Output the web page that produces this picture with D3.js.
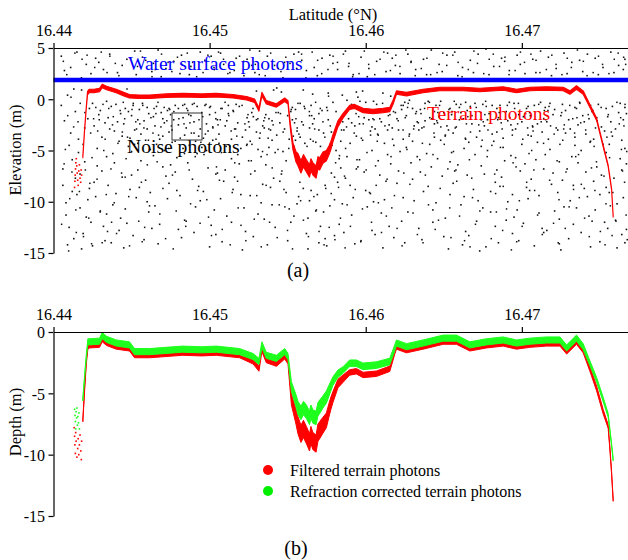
<!DOCTYPE html>
<html><head><meta charset="utf-8">
<script src="https://cdn.jsdelivr.net/npm/d3@7"></script>
<style>
body{margin:0;background:#fff}
svg{display:block}
text{font-family:"Liberation Serif","Times New Roman",serif}
</style>
</head><body>
<svg id="chart" width="628" height="560"></svg>
<script>
// ---------------- DATA ----------------
const latTicks = [16.44, 16.45, 16.46, 16.47];
const elevTicks = [5, 0, -5, -10, -15];
const depthTicks = [0, -5, -10, -15];

// water surface photons (panel a)
const waterLat = [16.4400, 16.4768];
const waterElev = [1.88, 1.88];

// terrain photons (panel a): centre elevation and spread of the photon band
const terrainLat = [16.44188,16.44199,16.44210,16.44218,16.44228,16.44260,16.44295,16.44312,16.44340,16.44402,16.44450,16.44487,16.44550,16.44615,16.44720,16.44827,16.44950,16.45043,16.45150,16.45237,16.45288,16.45316,16.45335,16.45363,16.45428,16.45481,16.45502,
16.45517,16.45534,16.45553,16.45566,16.45585,16.45601,16.45620,16.45640,16.45649,16.45662,16.45682,16.45694,16.45705,16.45726,16.45748,16.45764,16.45777,16.45790,16.45822,
16.45855,16.45897,16.45929,16.45983,16.46047,16.46111,16.46154,16.46175,16.46197,16.46261,16.46367,16.46474,16.46624,16.46731,16.46880,16.46966,16.47051,16.47158,16.47265,16.47308,16.47350,16.47393,16.47436,16.47479,16.47500,16.47521,16.47553,16.47575,16.47585];
const terrainElev = [-5.6,-3.0,-0.8,0.6,0.8,0.8,0.9,1.3,1.1,0.8,0.5,0.3,0.25,0.25,0.35,0.4,0.35,0.4,0.3,0.1,-0.15,-1.0,0.5,-0.3,-0.6,-0.05,-0.3,
-2.6,-4.6,-5.6,-5.9,-6.6,-6.0,-6.5,-7.0,-6.4,-6.8,-7.1,-6.2,-6.3,-5.7,-5.5,-5.0,-4.5,-3.8,-2.4,
-1.6,-0.8,-0.7,-1.1,-1.2,-1.1,-1.0,-0.3,0.65,0.5,0.8,1.0,1.0,0.9,1.05,0.8,1.0,1.05,1.0,0.65,1.15,0.65,-0.65,-1.95,-3.25,-4.55,-6.5,-8.8,-11.4];
const terrainSpread = [0.1,0.1,0.1,0.17,0.17,0.17,0.17,0.17,0.17,0.17,0.17,0.17,0.17,0.17,0.17,0.17,0.17,0.17,0.17,0.17,0.17,0.17,0.17,0.17,0.17,0.17,0.17,
0.25,0.35,0.5,0.6,0.6,0.6,0.6,0.6,0.6,0.6,0.6,0.6,0.6,0.55,0.5,0.45,0.4,0.35,0.3,
0.22,0.2,0.2,0.22,0.22,0.22,0.22,0.2,0.17,0.17,0.17,0.17,0.17,0.17,0.17,0.17,0.17,0.17,0.17,0.17,0.17,0.17,0.15,0.12,0.1,0.1,0.08,0.08,0.08];
const terrainScatter = [[16.44135,-8.6],[16.44137,-8.0],[16.44139,-7.4],[16.44141,-6.8],[16.44143,-6.2],[16.44146,-5.8],[16.44149,-6.5],[16.44152,-7.2],[16.44155,-7.9],[16.44158,-8.4],[16.44162,-7.0],[16.44166,-6.4],[16.44170,-7.7],[16.44174,-8.1],[16.44177,-6.9],[16.44180,-7.4]];

// noise photons (panel a)
const noise = [
[16.4405,4.2],[16.4407,-2.1],[16.4406,-6.8],[16.4408,-11.3],[16.4409,0.4],[16.4410,-4.5],[16.4411,3.1],[16.4412,-9.0],[16.4413,-13.6],[16.4414,-1.2],[16.4406,-8.4],[16.4409,-14.2],[16.4411,-3.3],[16.4413,1.0],[16.4408,-10.1],[16.4412,-5.9],[16.4410,-12.5],[16.4407,2.8],[16.4414,-7.7],[16.4405,-0.6],
[16.4415,4.6],[16.4416,-3.9],[16.4417,-10.6],[16.4418,0.9],[16.4419,-13.1],[16.4420,-6.1],[16.4421,3.4],[16.4422,-1.9],[16.4423,-8.7],[16.4424,-12.0],[16.4416,-5.2],[16.4418,-14.6],[16.4420,-2.8],[16.4422,-9.8],[16.4424,2.5],[16.4417,-7.3],[16.4419,-4.4],[16.4421,-11.5],[16.4423,-0.9],[16.4415,-9.3],
[16.4425,-0.4],[16.4426,-2.6],[16.4427,4.0],[16.4428,-6.5],[16.4429,-1.5],[16.4430,-10.9],[16.4431,-3.7],[16.4432,2.9],[16.4433,-13.8],[16.4434,-0.2],[16.4426,-8.1],[16.4428,-4.8],[16.4430,-1.1],[16.4432,-12.4],[16.4434,-5.6],[16.4427,-9.5],[16.4429,3.6],[16.4431,-7.0],[16.4433,-2.3],[16.4425,-14.3],[16.4434,-11.2],
[16.4435,-1.8],[16.4436,4.4],[16.4437,-0.7],[16.4438,-5.3],[16.4439,-3.1],[16.4440,-9.2],[16.4441,2.6],[16.4442,-12.8],[16.4443,-1.4],[16.4444,-7.6],[16.4436,-2.9],[16.4438,-10.3],[16.4440,-0.5],[16.4442,-4.1],[16.4444,3.3],[16.4437,-14.0],[16.4439,-6.2],[16.4441,-2.2],[16.4443,-11.6],[16.4435,-8.4],[16.4444,-3.6],
[16.4445,-2.4],[16.4446,-0.9],[16.4447,3.9],[16.4448,-4.6],[16.4449,-8.8],[16.4450,-1.6],[16.4451,-13.3],[16.4452,-3.0],[16.4453,2.4],[16.4454,-6.9],[16.4446,-10.7],[16.4448,-1.2],[16.4450,-5.1],[16.4452,4.7],[16.4454,-2.0],[16.4447,-12.1],[16.4449,-3.8],[16.4451,-0.6],[16.4453,-9.6],[16.4445,-14.5],[16.4450,-7.4],[16.4454,-4.3],
[16.4455,-1.0],[16.4456,-3.4],[16.4457,4.1],[16.4458,-2.1],[16.4459,-7.9],[16.4460,-0.8],[16.4461,-11.0],[16.4462,-4.9],[16.4463,2.7],[16.4464,-1.7],[16.4456,-6.0],[16.4458,-13.7],[16.4460,-2.9],[16.4462,-9.1],[16.4464,3.5],[16.4457,-0.4],[16.4459,-4.0],[16.4461,-1.4],[16.4463,-12.6],[16.4455,-8.6],[16.4464,-5.5],[16.4460,-10.0],
[16.4465,-2.6],[16.4466,-0.7],[16.4467,4.8],[16.4468,-3.9],[16.4469,-1.3],[16.4470,-6.6],[16.4471,-2.3],[16.4472,3.0],[16.4473,-9.7],[16.4474,-0.9],[16.4466,-4.4],[16.4468,-12.2],[16.4470,-1.9],[16.4472,-7.5],[16.4474,-3.2],[16.4467,-14.1],[16.4469,2.2],[16.4471,-5.0],[16.4473,-1.1],[16.4465,-10.4],[16.4470,-3.6],[16.4474,-8.2],
[16.4475,-1.5],[16.4476,-3.0],[16.4477,3.7],[16.4478,-0.6],[16.4479,-5.7],[16.4480,-2.5],[16.4481,-9.4],[16.4482,4.3],[16.4483,-1.8],[16.4484,-11.8],[16.4476,-4.2],[16.4478,-7.1],[16.4480,-0.9],[16.4482,-13.5],[16.4484,-3.5],[16.4477,-2.0],[16.4479,-8.9],[16.4481,2.5],[16.4483,-4.8],[16.4475,-6.4],[16.4480,-12.7],[16.4484,-0.5],
[16.4485,-2.8],[16.4486,-1.1],[16.4487,-4.5],[16.4488,3.2],[16.4489,-7.8],[16.4490,-2.2],[16.4491,-10.5],[16.4492,-0.7],[16.4493,-3.6],[16.4494,4.6],[16.4486,-6.2],[16.4488,-1.6],[16.4490,-13.0],[16.4492,-5.3],[16.4494,-2.9],[16.4487,2.4],[16.4489,-0.5],[16.4491,-4.1],[16.4493,-8.5],[16.4485,-11.9],[16.4490,-3.3],[16.4494,-9.9],
[16.4495,-1.3],[16.4496,-3.8],[16.4497,3.8],[16.4498,-2.4],[16.4499,-6.7],[16.4500,-0.8],[16.4501,-12.3],[16.4502,-4.0],[16.4503,2.9],[16.4504,-1.9],[16.4496,-9.0],[16.4498,-5.0],[16.4500,-14.4],[16.4502,-2.7],[16.4504,-7.3],[16.4497,-0.6],[16.4499,-3.1],[16.4501,4.2],[16.4503,-10.8],[16.4495,-4.7],[16.4500,-1.5],[16.4504,-13.2],
[16.4505,-2.0],[16.4506,-4.3],[16.4507,4.5],[16.4508,-0.9],[16.4509,-8.0],[16.4510,-2.6],[16.4511,-11.4],[16.4512,-1.4],[16.4513,2.6],[16.4514,-5.8],[16.4506,-3.4],[16.4508,-13.9],[16.4510,-6.9],[16.4512,-0.6],[16.4514,-3.9],[16.4507,-9.7],[16.4509,3.4],[16.4511,-2.1],[16.4513,-4.6],[16.4505,-7.2],[16.4514,-12.0],
[16.4515,-1.1],[16.4516,-2.9],[16.4517,4.0],[16.4518,-5.4],[16.4519,-0.7],[16.4520,-9.3],[16.4521,-3.7],[16.4522,2.3],[16.4523,-12.9],[16.4524,-1.8],[16.4516,-7.6],[16.4518,-2.3],[16.4520,-4.8],[16.4522,-10.6],[16.4524,3.9],[16.4517,-0.5],[16.4519,-6.3],[16.4521,-14.7],[16.4523,-3.0],[16.4515,-8.8],[16.4524,-4.4],
[16.4525,-2.2],[16.4526,-4.1],[16.4527,3.3],[16.4528,-1.7],[16.4529,-7.0],[16.4530,-3.2],[16.4531,-11.2],[16.4532,4.7],[16.4533,-5.6],[16.4534,-2.6],[16.4526,-9.4],[16.4528,-13.4],[16.4530,0.8],[16.4532,-3.8],[16.4534,-8.3],[16.4527,-1.3],[16.4529,2.6],[16.4531,-4.9],[16.4533,-10.1],[16.4525,-6.0],[16.4530,-2.0],
[16.4535,-2.8],[16.4536,-1.5],[16.4537,4.2],[16.4538,-4.7],[16.4539,-8.6],[16.4540,-2.1],[16.4541,0.9],[16.4542,-12.5],[16.4543,-3.5],[16.4544,3.0],[16.4536,-6.4],[16.4538,-1.9],[16.4540,-10.3],[16.4542,-5.2],[16.4544,-1.3],[16.4537,-14.2],[16.4539,-3.0],[16.4541,-7.7],[16.4543,1.1],[16.4535,-11.7],[16.4540,-4.0],
[16.4545,-2.3],[16.4546,0.7],[16.4547,-5.1],[16.4548,3.6],[16.4549,-9.1],[16.4550,-1.6],[16.4551,-3.9],[16.4552,-12.0],[16.4553,-0.8],[16.4554,4.4],[16.4546,-7.3],[16.4548,-2.9],[16.4550,-13.8],[16.4552,-1.2],[16.4554,-4.6],[16.4547,2.1],[16.4549,-6.0],[16.4551,-10.7],[16.4553,-2.0],[16.4545,-8.0],[16.4554,-11.4],
[16.4555,-1.0],[16.4556,-3.1],[16.4557,4.6],[16.4558,-0.4],[16.4559,-2.2],[16.4560,-8.7],[16.4561,-4.3],[16.4562,2.8],[16.4563,-11.6],[16.4564,-1.6],[16.4556,-10.2],[16.4558,-3.7],[16.4560,0.9],[16.4562,-13.1],[16.4564,-2.8],[16.4557,-9.5],[16.4559,3.8],[16.4561,-0.9],[16.4563,-14.6],[16.4555,-4.0],[16.4560,-2.5],[16.4564,-9.9],
[16.4565,-0.6],[16.4566,-2.4],[16.4567,3.1],[16.4568,-4.2],[16.4569,-9.3],[16.4570,-1.4],[16.4571,-12.4],[16.4572,4.0],[16.4573,-3.3],[16.4574,-8.4],[16.4566,0.5],[16.4568,-10.9],[16.4570,-3.0],[16.4572,-1.1],[16.4574,-13.6],[16.4567,-1.9],[16.4569,2.3],[16.4571,-4.6],[16.4573,-11.0],[16.4565,-8.9],[16.4570,-14.0],
[16.4575,-0.8],[16.4576,-2.0],[16.4577,4.3],[16.4578,-7.2],[16.4579,-0.3],[16.4580,-9.8],[16.4581,-5.0],[16.4582,2.9],[16.4583,-12.2],[16.4584,-6.7],[16.4576,0.6],[16.4578,-3.2],[16.4580,-13.3],[16.4582,-8.1],[16.4584,-4.1],[16.4577,-10.4],[16.4579,3.5],[16.4581,-1.2],[16.4583,-5.8],[16.4575,-14.3],[16.4580,-7.6],
[16.4585,0.4],[16.4586,-3.0],[16.4587,4.7],[16.4588,-5.6],[16.4589,-1.9],[16.4590,-8.4],[16.4591,-11.3],[16.4592,2.4],[16.4593,-2.6],[16.4594,-6.8],[16.4586,-13.0],[16.4588,-0.1],[16.4590,-4.3],[16.4592,-9.6],[16.4594,-3.6],[16.4587,-7.7],[16.4589,3.2],[16.4591,-2.3],[16.4593,-14.1],[16.4585,-10.2],[16.4594,0.7],
[16.4595,0.2],[16.4596,-2.4],[16.4597,4.1],[16.4598,-4.0],[16.4599,-7.1],[16.4600,-0.3],[16.4601,-10.5],[16.4602,3.0],[16.4603,-3.1],[16.4604,-12.8],[16.4596,-5.9],[16.4598,0.8],[16.4600,-8.9],[16.4602,-2.0],[16.4604,-5.0],[16.4597,-13.8],[16.4599,-1.8],[16.4601,2.2],[16.4603,-9.2],[16.4595,-6.6],[16.4604,-2.7],
[16.4605,-0.2],[16.4606,-2.9],[16.4607,3.7],[16.4608,-6.0],[16.4609,-1.9],[16.4610,-11.1],[16.4611,0.6],[16.4612,-4.3],[16.4613,-8.0],[16.4614,4.5],[16.4606,-13.2],[16.4608,-3.5],[16.4610,-2.2],[16.4612,-9.8],[16.4614,-5.4],[16.4607,-0.5],[16.4609,-7.4],[16.4611,-14.5],[16.4613,2.7],[16.4605,-10.0],[16.4614,-3.0],
[16.4615,-2.5],[16.4616,0.3],[16.4617,4.0],[16.4618,-4.5],[16.4619,-1.3],[16.4620,-8.2],[16.4621,-3.0],[16.4622,2.5],[16.4623,-11.9],[16.4624,-0.6],[16.4616,-6.3],[16.4618,-13.5],[16.4620,-1.9],[16.4622,-5.1],[16.4624,-9.6],[16.4617,-2.8],[16.4619,3.3],[16.4621,-7.0],[16.4623,-1.0],[16.4615,-12.4],[16.4624,-3.9],
[16.4625,-0.3],[16.4626,-1.6],[16.4627,4.4],[16.4628,-3.4],[16.4629,-6.2],[16.4630,-0.9],[16.4631,-9.9],[16.4632,2.9],[16.4633,-2.2],[16.4634,-12.6],[16.4626,-4.7],[16.4628,-0.1],[16.4630,-7.8],[16.4632,-1.4],[16.4634,-3.0],[16.4627,-11.0],[16.4629,3.6],[16.4631,-2.6],[16.4633,-5.6],[16.4625,-14.0],[16.4630,-4.1],
[16.4635,-1.0],[16.4636,-2.8],[16.4637,3.9],[16.4638,-0.4],[16.4639,-5.3],[16.4640,-8.5],[16.4641,-1.8],[16.4642,4.8],[16.4643,-10.8],[16.4644,-3.7],[16.4636,-13.7],[16.4638,-2.1],[16.4640,-0.2],[16.4642,-6.6],[16.4644,-1.2],[16.4637,-9.0],[16.4639,2.4],[16.4641,-4.4],[16.4643,-12.0],[16.4635,-7.1],[16.4644,-2.4],
[16.4645,-0.6],[16.4646,-2.3],[16.4647,3.4],[16.4648,-4.0],[16.4649,-7.5],[16.4650,-1.3],[16.4651,-11.6],[16.4652,4.3],[16.4653,-3.0],[16.4654,-9.3],[16.4646,-5.8],[16.4648,-0.2],[16.4650,-13.4],[16.4652,-2.6],[16.4654,-6.1],[16.4647,-1.7],[16.4649,2.7],[16.4651,-3.5],[16.4653,-14.6],[16.4645,-10.1],[16.4654,-0.9],
[16.4655,-1.5],[16.4656,-3.3],[16.4657,4.6],[16.4658,-0.5],[16.4659,-6.4],[16.4660,-2.0],[16.4661,-10.3],[16.4662,3.1],[16.4663,-4.8],[16.4664,-12.9],[16.4656,-8.2],[16.4658,-2.7],[16.4660,-0.8],[16.4662,-14.2],[16.4664,-3.9],[16.4657,-7.0],[16.4659,2.3],[16.4661,-1.3],[16.4663,-9.5],[16.4655,-5.2],[16.4664,-0.3],
[16.4665,-1.1],[16.4666,-4.2],[16.4667,3.8],[16.4668,-2.4],[16.4669,-8.8],[16.4670,-0.4],[16.4671,-11.9],[16.4672,4.4],[16.4673,-3.1],[16.4674,-6.5],[16.4666,-13.3],[16.4668,-1.6],[16.4670,-5.4],[16.4672,-9.9],[16.4674,-2.0],[16.4667,-0.7],[16.4669,2.6],[16.4671,-3.7],[16.4673,-14.8],[16.4665,-7.4],[16.4674,-4.6],
[16.4675,-0.5],[16.4676,-2.6],[16.4677,4.9],[16.4678,-5.0],[16.4679,-1.4],[16.4680,-9.0],[16.4681,-3.4],[16.4682,3.2],[16.4683,-12.4],[16.4684,-0.9],[16.4676,-7.3],[16.4678,-2.0],[16.4680,-11.0],[16.4682,-4.1],[16.4684,-6.9],[16.4677,-14.4],[16.4679,2.4],[16.4681,-0.6],[16.4683,-8.1],[16.4675,-10.6],[16.4684,-3.2],
[16.4685,-1.8],[16.4686,-0.6],[16.4687,4.0],[16.4688,-3.8],[16.4689,-6.0],[16.4690,-1.2],[16.4691,-10.0],[16.4692,2.8],[16.4693,-2.5],[16.4694,-13.1],[16.4686,-8.5],[16.4688,-4.7],[16.4690,-11.8],[16.4692,-0.3],[16.4694,-3.0],[16.4687,-7.6],[16.4689,3.7],[16.4691,-2.1],[16.4693,-5.5],[16.4685,-14.0],[16.4694,-9.3],
[16.4695,-0.4],[16.4696,-2.9],[16.4697,4.3],[16.4698,-1.5],[16.4699,-7.0],[16.4700,-4.4],[16.4701,-12.1],[16.4702,2.5],[16.4703,-0.9],[16.4704,-9.7],[16.4696,-5.7],[16.4698,-13.8],[16.4700,-2.2],[16.4702,-6.3],[16.4704,-3.5],[16.4697,-10.8],[16.4699,3.4],[16.4701,-1.7],[16.4703,-8.6],[16.4695,-11.5],[16.4704,-0.7],
[16.4705,-1.3],[16.4706,-3.6],[16.4707,3.9],[16.4708,-0.6],[16.4709,-5.9],[16.4710,-2.4],[16.4711,-9.4],[16.4712,4.7],[16.4713,-12.6],[16.4714,-1.9],[16.4706,-7.8],[16.4708,-14.3],[16.4710,-4.2],[16.4712,-0.3],[16.4714,-6.8],[16.4707,-2.7],[16.4709,2.6],[16.4711,-11.1],[16.4713,-3.2],[16.4705,-8.9],[16.4714,-13.0],
[16.4715,-0.8],[16.4716,-2.2],[16.4717,4.1],[16.4718,-4.9],[16.4719,-8.3],[16.4720,-1.5],[16.4721,-10.9],[16.4722,3.0],[16.4723,-3.0],[16.4724,-6.1],[16.4716,-12.8],[16.4718,-0.4],[16.4720,-7.2],[16.4722,-2.8],[16.4724,-14.1],[16.4717,-3.9],[16.4719,2.3],[16.4721,-1.0],[16.4723,-9.1],[16.4715,-5.4],[16.4724,-11.7],
[16.4725,-1.6],[16.4726,-0.5],[16.4727,4.5],[16.4728,-3.3],[16.4729,-6.8],[16.4730,-2.0],[16.4731,-9.9],[16.4732,3.6],[16.4733,-12.2],[16.4734,-4.5],[16.4726,-7.9],[16.4728,-1.1],[16.4730,-13.6],[16.4732,-5.6],[16.4734,-0.8],[16.4727,-10.5],[16.4729,2.5],[16.4731,-2.9],[16.4733,-8.4],[16.4725,-14.7],[16.4734,-3.7],
[16.4735,-0.9],[16.4736,-2.5],[16.4737,3.8],[16.4738,-5.0],[16.4739,-1.6],[16.4740,-8.7],[16.4741,-3.4],[16.4742,4.4],[16.4743,-11.4],[16.4744,-0.6],[16.4736,-6.2],[16.4738,-13.0],[16.4740,-2.2],[16.4742,-9.5],[16.4744,-4.1],[16.4737,-0.3],[16.4739,2.7],[16.4741,-7.1],[16.4743,-1.9],[16.4735,-10.6],[16.4744,-14.4],
[16.4745,-1.2],[16.4746,-3.9],[16.4747,4.0],[16.4748,-6.6],[16.4749,-0.5],[16.4750,-9.3],[16.4751,-2.7],[16.4752,3.1],[16.4753,-12.0],[16.4754,-5.2],[16.4746,-8.0],[16.4748,-1.8],[16.4750,-13.9],[16.4752,-4.4],[16.4754,-0.9],[16.4747,-10.8],[16.4749,2.4],[16.4751,-7.4],[16.4753,-3.1],[16.4745,-11.9],[16.4754,-8.6],
[16.4755,-1.7],[16.4756,-4.4],[16.4757,4.6],[16.4758,-0.7],[16.4759,-7.7],[16.4760,-2.9],[16.4761,-10.2],[16.4762,3.3],[16.4763,-5.8],[16.4764,-13.2],[16.4756,-9.1],[16.4758,-3.6],[16.4760,-11.8],[16.4762,-1.3],[16.4764,-6.9],[16.4757,-2.2],[16.4759,2.6],[16.4761,-14.5],[16.4763,-0.4],[16.4755,-12.6],[16.4764,-4.0],
[16.4765,-2.0],[16.4766,3.9],[16.4767,-6.3],[16.4765,-9.6],[16.4766,-0.8],[16.4767,-12.7],[16.4766,-4.8],[16.4765,2.9],[16.4767,-1.4],[16.4766,-14.0]
];
const noiseMore = [
[16.44063,3.7],[16.44091,-1.6],[16.44118,-7.1],[16.44052,-12.2],[16.44137,4.5],[16.44076,-4.9],[16.44104,-9.7],[16.44129,-2.7],[16.44085,2.4],[16.44146,-13.0],[16.44068,-6.3],[16.44112,0.2],[16.44097,-14.8],[16.44143,-10.8],
[16.44157,-2.2],[16.44183,3.9],[16.44204,-6.9],[16.44226,-11.6],[16.44171,-0.4],[16.44238,-3.3],[16.44192,-13.4],[16.44215,4.3],[16.44166,-9.0],[16.44247,-5.7],[16.44179,2.1],[16.44233,-8.2],[16.44201,-1.3],[16.44244,-14.1],
[16.44257,-1.9],[16.44283,-3.1],[16.44306,4.6],[16.44322,-5.0],[16.44271,-0.8],[16.44338,-9.3],[16.44293,-2.0],[16.44346,-12.9],[16.44264,3.1],[16.44317,-0.5],[16.44279,-7.8],[16.44331,-3.9],[16.44299,-11.0],[16.44343,2.6],[16.44312,-14.0],
[16.44354,-0.9],[16.44378,-2.5],[16.44396,3.5],[16.44413,-4.3],[16.44368,-6.8],[16.44427,-1.1],[16.44389,-10.1],[16.44441,-3.2],[16.44361,4.2],[16.44404,-13.1],[16.44436,-7.2],[16.44383,-1.7],[16.44419,2.3],[16.44447,-0.3],[16.44372,-12.0],
[16.44456,-1.9],[16.44474,-3.7],[16.44493,4.0],[16.44511,-0.4],[16.44465,-5.8],[16.44527,-2.2],[16.44482,-9.5],[16.44538,3.2],[16.44503,-1.0],[16.44546,-11.9],[16.44459,-7.6],[16.44519,-4.4],[16.44487,-14.3],[16.44532,-2.9],[16.44471,1.0],
[16.44553,-2.4],[16.44572,-0.6],[16.44591,3.8],[16.44608,-4.0],[16.44563,-8.1],[16.44624,-1.8],[16.44584,-12.5],[16.44637,-3.3],[16.44557,4.7],[16.44601,-6.4],[16.44644,-0.9],[16.44579,-2.8],[16.44615,-10.4],[16.44631,2.2],[16.44568,-13.9],
[16.44656,-1.4],[16.44673,-3.5],[16.44692,4.4],[16.44709,-0.8],[16.44664,-6.1],[16.44726,-2.1],[16.44681,-11.2],[16.44738,-4.8],[16.44652,2.9],[16.44701,-8.7],[16.44745,-1.0],[16.44688,-2.7],[16.44718,-13.6],[16.44734,3.6],[16.44669,-0.3],
[16.44755,-2.6],[16.44771,-1.2],[16.44794,4.1],[16.44812,-3.8],[16.44762,-7.4],[16.44828,-0.6],[16.44786,-10.9],[16.44839,-5.3],[16.44758,2.7],[16.44803,-1.9],[16.44847,-12.4],[16.44779,-4.1],[16.44821,3.4],[16.44836,-2.4],[16.44767,-14.6],
[16.44853,-0.9],[16.44874,-2.3],[16.44891,3.6],[16.44908,-5.6],[16.44866,-1.5],[16.44923,-8.9],[16.44883,-3.3],[16.44939,-12.1],[16.44857,4.5],[16.44901,-0.4],[16.44944,-4.2],[16.44878,-10.2],[16.44917,2.2],[16.44932,-2.0],[16.44869,-6.9],
[16.44956,-1.7],[16.44973,-3.4],[16.44989,4.3],[16.45006,-0.7],[16.44964,-5.4],[16.45021,-2.8],[16.44982,-9.8],[16.45037,-1.3],[16.44958,2.6],[16.45012,-13.3],[16.45044,-6.6],[16.44977,-0.5],[16.45028,3.1],[16.44993,-11.5],[16.45041,-3.9],
[16.45054,-2.5],[16.45072,-0.9],[16.45089,3.9],[16.45106,-4.6],[16.45063,-7.9],[16.45123,-1.6],[16.45081,-12.7],[16.45138,-3.1],[16.45057,4.6],[16.45099,-0.3],[16.45145,-9.1],[16.45076,-5.2],[16.45117,2.5],[16.45132,-14.2],[16.45068,-2.0],
[16.45153,-1.2],[16.45174,-3.6],[16.45192,4.2],[16.45208,-0.6],[16.45161,-6.2],[16.45226,-2.4],[16.45183,-10.6],[16.45237,-4.5],[16.45158,2.8],[16.45201,-12.3],[16.45246,-1.5],[16.45179,-8.0],[16.45219,3.7],[16.45232,-13.8],[16.45167,-2.9],
[16.45255,-2.7],[16.45271,-4.4],[16.45293,3.4],[16.45309,-1.9],[16.45263,-7.3],[16.45324,-3.3],[16.45286,-11.7],[16.45339,-5.1],[16.45258,4.8],[16.45302,-9.4],[16.45347,-2.1],[16.45278,-0.9],[16.45318,2.4],[16.45331,-14.4],[16.45267,-6.0],
[16.45353,-1.8],[16.45375,-3.8],[16.45391,4.5],[16.45407,-2.5],[16.45362,-8.4],[16.45425,-1.3],[16.45384,-12.0],[16.45438,-4.9],[16.45356,2.3],[16.45401,-6.7],[16.45446,-10.3],[16.45379,-2.9],[16.45416,3.3],[16.45433,-13.5],[16.45368,-5.4],
[16.45454,-1.4],[16.45471,-3.2],[16.45488,4.1],[16.45507,-4.8],[16.45463,-7.0],[16.45523,-1.0],[16.45482,-10.5],[16.45536,-3.6],[16.45457,2.7],[16.45499,-12.8],[16.45544,-2.3],[16.45476,-8.8],[16.45515,3.5],[16.45531,-14.6],[16.45466,-0.2],
[16.45553,-1.9],[16.45572,-3.4],[16.45589,4.4],[16.45606,-0.7],[16.45561,-2.8],[16.45624,-4.6],[16.45583,-9.9],[16.45639,-1.2],[16.45558,3.0],[16.45601,-11.8],[16.45646,-3.9],[16.45578,-8.1],[16.45617,2.1],[16.45633,-13.4],[16.45566,-0.4],
[16.45654,-1.6],[16.45673,-2.9],[16.45692,3.8],[16.45709,-0.9],[16.45663,-4.1],[16.45726,-2.2],[16.45684,-10.8],[16.45738,-3.7],[16.45657,4.6],[16.45701,-12.9],[16.45744,-8.7],[16.45679,-0.3],[16.45718,2.5],[16.45733,-14.2],[16.45668,-9.5],
[16.45755,-1.1],[16.45773,-2.6],[16.45791,4.2],[16.45807,-6.2],[16.45762,0.3],[16.45826,-8.6],[16.45784,-4.5],[16.45838,-11.6],[16.45758,2.9],[16.45803,-13.7],[16.45845,-3.0],[16.45779,-9.2],[16.45819,3.6],[16.45832,-5.5],[16.45766,-12.5],
[16.45853,-2.2],[16.45871,-4.8],[16.45893,3.5],[16.45909,-0.5],[16.45864,-7.5],[16.45926,-3.3],[16.45881,-10.3],[16.45938,-1.4],[16.45857,4.4],[16.45902,-12.4],[16.45944,-5.9],[16.45877,-2.7],[16.45916,2.2],[16.45933,-8.8],[16.45868,-14.5],
[16.45955,-1.7],[16.45972,-3.8],[16.45991,4.7],[16.46008,-5.2],[16.45963,-0.2],[16.46024,-9.1],[16.45984,-2.4],[16.46037,-12.0],[16.45957,2.5],[16.46003,-6.9],[16.46046,-1.9],[16.45979,-10.7],[16.46019,3.4],[16.46031,-3.5],[16.45968,-13.9],
[16.46053,-2.0],[16.46074,-4.1],[16.46092,3.9],[16.46108,-0.4],[16.46063,-6.5],[16.46123,-2.6],[16.46081,-10.1],[16.46137,-7.8],[16.46058,2.4],[16.46101,-13.0],[16.46145,-1.6],[16.46076,-3.4],[16.46116,4.6],[16.46132,-11.4],[16.46067,-8.4],
[16.46155,-1.5],[16.46172,-3.9],[16.46193,4.3],[16.46208,-2.1],[16.46162,-5.6],[16.46227,-0.6],[16.46184,-9.4],[16.46239,-3.0],[16.46158,2.8],[16.46201,-12.6],[16.46244,-7.2],[16.46178,-1.2],[16.46219,3.2],[16.46233,-14.3],[16.46167,-10.6],
[16.46253,-1.8],[16.46272,-0.4],[16.46291,3.7],[16.46307,-2.9],[16.46264,-4.9],[16.46325,-1.2],[16.46283,-8.3],[16.46337,-2.3],[16.46257,4.8],[16.46303,-11.1],[16.46346,-5.9],[16.46278,-3.6],[16.46317,2.3],[16.46331,-13.2],[16.46268,-0.8],
[16.46354,-1.4],[16.46373,-2.7],[16.46392,4.0],[16.46408,-0.3],[16.46363,-4.3],[16.46424,-1.9],[16.46382,-7.4],[16.46437,-3.3],[16.46356,3.0],[16.46402,-10.3],[16.46445,-12.7],[16.46377,-0.9],[16.46416,2.4],[16.46431,-5.4],[16.46367,-14.0],
[16.46455,-2.1],[16.46473,-0.6],[16.46493,4.5],[16.46509,-3.6],[16.46462,-1.3],[16.46526,-6.8],[16.46481,-2.7],[16.46538,-10.6],[16.46457,2.6],[16.46503,-4.4],[16.46546,-13.5],[16.46477,-8.7],[16.46519,3.3],[16.46533,-1.0],[16.46466,-11.8],
[16.46554,-1.2],[16.46573,-2.8],[16.46592,3.6],[16.46609,-0.5],[16.46562,-5.1],[16.46624,-1.9],[16.46583,-8.0],[16.46638,-3.8],[16.46558,4.3],[16.46601,-11.4],[16.46645,-2.4],[16.46578,-6.9],[16.46617,2.2],[16.46633,-13.8],[16.46567,-0.2],
[16.46654,-1.7],[16.46671,-3.2],[16.46693,4.7],[16.46708,-0.8],[16.46664,-5.9],[16.46724,-2.5],[16.46684,-9.6],[16.46739,-1.3],[16.46657,2.9],[16.46703,-12.2],[16.46746,-4.0],[16.46679,-7.7],[16.46716,3.5],[16.46731,-10.9],[16.46668,-14.4],
[16.46753,-2.2],[16.46772,-0.7],[16.46791,3.9],[16.46808,-4.5],[16.46763,-1.5],[16.46826,-7.3],[16.46783,-3.0],[16.46837,-11.0],[16.46756,2.5],[16.46804,-13.6],[16.46845,-2.0],[16.46778,-5.6],[16.46817,4.4],[16.46832,-9.2],[16.46768,-0.2],
[16.46855,-1.3],[16.46874,-2.9],[16.46892,4.1],[16.46907,-0.6],[16.46863,-4.7],[16.46925,-1.8],[16.46881,-8.5],[16.46939,-3.5],[16.46857,3.2],[16.46902,-10.7],[16.46944,-6.2],[16.46877,-12.8],[16.46918,2.4],[16.46933,-14.7],[16.46868,-2.3],
[16.46954,-0.9],[16.46973,-2.4],[16.46991,4.6],[16.47006,-3.9],[16.46963,-6.6],[16.47024,-1.4],[16.46984,-9.9],[16.47037,-2.8],[16.46957,2.8],[16.47002,-12.4],[16.47046,-5.3],[16.46978,-0.4],[16.47017,3.6],[16.47031,-8.1],[16.46967,-13.9],
[16.47054,-1.6],[16.47072,-3.1],[16.47091,3.8],[16.47108,-0.5],[16.47063,-5.0],[16.47124,-2.2],[16.47082,-8.9],[16.47139,-4.3],[16.47058,4.4],[16.47101,-11.3],[16.47144,-1.1],[16.47077,-6.9],[16.47116,2.6],[16.47131,-13.2],[16.47068,-2.6],
[16.47153,-2.0],[16.47174,-0.7],[16.47192,4.3],[16.47207,-3.4],[16.47162,-1.6],[16.47226,-6.0],[16.47184,-2.6],[16.47238,-9.8],[16.47157,2.9],[16.47203,-12.1],[16.47244,-4.4],[16.47178,-7.9],[16.47219,3.4],[16.47233,-14.0],[16.47167,-1.1],
[16.47255,-1.3],[16.47272,-2.5],[16.47291,4.0],[16.47307,-0.6],[16.47262,-4.0],[16.47326,-1.9],[16.47283,-7.1],[16.47338,-3.3],[16.47257,2.4],[16.47303,-10.5],[16.47345,-5.6],[16.47278,-12.6],[16.47317,3.1],[16.47331,-8.8],[16.47268,-2.9],
[16.47353,-1.8],[16.47372,-0.4],[16.47394,3.7],[16.47409,-3.0],[16.47363,-5.4],[16.47425,-1.5],[16.47381,-8.3],[16.47437,-4.2],[16.47356,4.8],[16.47402,-11.6],[16.47446,-6.7],[16.47377,-2.3],[16.47418,2.3],[16.47432,-13.4],[16.47368,-9.6],
[16.47455,-1.1],[16.47472,-2.8],[16.47491,4.2],[16.47508,-0.8],[16.47463,-4.6],[16.47526,-7.5],[16.47483,-2.1],[16.47539,-10.2],[16.47457,2.6],[16.47503,-12.9],[16.47545,-3.7],[16.47478,-6.1],[16.47517,3.4],[16.47533,-14.2],[16.47468,-8.9],
[16.47554,-1.5],[16.47573,-3.2],[16.47592,3.9],[16.47609,-0.3],[16.47562,-5.7],[16.47624,-2.4],[16.47583,-9.1],[16.47638,-4.9],[16.47558,2.5],[16.47603,-11.9],[16.47645,-7.0],[16.47578,-13.3],[16.47617,4.5],[16.47633,-1.8],[16.47567,-10.4],
[16.47654,-2.6],[16.47665,3.4],[16.47672,-5.1],[16.47658,-8.1],[16.47668,-11.3],[16.47661,-0.5],[16.47675,-13.7],[16.47652,4.1]
];

// panel b: filtered and refraction corrected terrain depth
const depthLat = [16.44188,16.44200,16.44210,16.44220,16.44231,16.44295,16.44312,16.44340,16.44402,16.44487,16.44519,16.44615,16.44720,16.44827,16.44950,16.45043,16.45192,16.45278,16.45316,16.45335,16.45363,16.45428,16.45481,16.45502,
16.45524,16.45553,16.45566,16.45585,16.45601,16.45620,16.45640,16.45649,16.45662,16.45682,16.45694,16.45705,16.45726,16.45748,16.45764,16.45777,16.45790,16.45822,
16.45855,16.45897,16.45940,16.45983,16.46069,16.46154,16.46186,16.46197,16.46261,16.46367,16.46496,16.46581,16.46667,16.46774,16.46880,16.46966,16.47051,16.47158,16.47244,16.47287,16.47350,16.47393,
16.47436,16.47479,16.47521,16.47553,16.47564,16.47575,16.47585];
const filteredDepth = [-7.2,-4.5,-2.5,-1.2,-1.1,-1.05,-0.6,-0.9,-1.2,-1.35,-1.9,-1.9,-1.8,-1.7,-1.75,-1.7,-1.9,-2.4,-3.0,-1.4,-2.3,-2.6,-2.0,-2.4,
-5.5,-6.9,-7.6,-8.3,-7.9,-8.4,-9.0,-8.4,-8.9,-9.1,-8.2,-8.0,-7.6,-7.2,-6.4,-5.8,-5.3,-4.2,
-3.8,-3.3,-3.2,-3.5,-3.4,-3.0,-1.6,-1.2,-1.5,-1.2,-0.8,-0.8,-1.35,-1.1,-0.95,-1.2,-1.05,-0.95,-0.95,-1.6,-0.8,-1.5,
-3.0,-4.6,-6.5,-7.7,-9.5,-11.5,-13.7];
const filteredSpread = [0.12,0.12,0.12,0.2,0.2,0.2,0.2,0.2,0.2,0.2,0.2,0.2,0.2,0.2,0.2,0.2,0.2,0.2,0.2,0.2,0.2,0.2,0.2,0.2,
0.45,0.6,0.7,0.7,0.7,0.7,0.7,0.7,0.7,0.7,0.7,0.7,0.65,0.6,0.55,0.5,0.45,0.35,
0.3,0.22,0.22,0.22,0.22,0.22,0.2,0.2,0.2,0.2,0.2,0.2,0.2,0.2,0.2,0.2,0.2,0.2,0.2,0.2,0.2,0.2,
0.2,0.2,0.18,0.15,0.12,0.12,0.1];
const correctedDepth = [-5.5,-3.5,-2.0,-0.8,-0.8,-0.75,-0.3,-0.6,-0.9,-1.05,-1.6,-1.6,-1.5,-1.4,-1.45,-1.4,-1.6,-2.0,-2.4,-1.05,-1.9,-2.15,-1.6,-2.0,
-4.45,-5.6,-6.2,-6.6,-6.2,-6.5,-7.0,-6.5,-6.9,-7.0,-6.3,-6.1,-5.7,-5.3,-4.8,-4.4,-4.0,-3.4,
-3.1,-2.55,-2.55,-2.8,-2.7,-2.4,-1.3,-0.9,-1.2,-0.9,-0.5,-0.5,-1.05,-0.8,-0.65,-0.9,-0.75,-0.65,-0.65,-1.3,-0.5,-1.2,
-2.55,-3.9,-5.5,-6.8,-8.0,-9.2,-10.4];
const correctedSpread = [0.12,0.12,0.12,0.25,0.25,0.25,0.25,0.25,0.25,0.25,0.25,0.25,0.25,0.25,0.25,0.25,0.25,0.25,0.25,0.25,0.25,0.25,0.25,0.25,
0.4,0.5,0.55,0.55,0.55,0.55,0.55,0.55,0.55,0.55,0.55,0.55,0.5,0.5,0.45,0.4,0.35,0.3,
0.27,0.27,0.27,0.27,0.27,0.27,0.25,0.25,0.25,0.25,0.25,0.25,0.25,0.25,0.25,0.25,0.25,0.25,0.25,0.25,0.25,0.25,
0.2,0.2,0.18,0.15,0.12,0.12,0.1];
const filteredScatter = [[16.44132,-7.8],[16.44135,-8.5],[16.44137,-9.2],[16.44140,-9.9],[16.44142,-8.2],[16.44145,-8.9],[16.44150,-10.2],[16.44155,-9.5],[16.44158,-8.7],[16.44162,-10.0],[16.44166,-9.2],[16.44170,-8.4],[16.44175,-9.7],[16.44178,-10.4],[16.44180,-8.9]];
const correctedScatter = [[16.44135,-6.3],[16.44138,-6.8],[16.44140,-7.3],[16.44142,-7.9],[16.44145,-6.5],[16.44148,-7.0],[16.44150,-6.2],[16.44153,-7.6],[16.44156,-6.9],[16.44160,-7.4],[16.44163,-6.6],[16.44166,-7.9]];

const legendLabels = ["Filtered terrain photons", "Refraction corrected terrain photons"];

// ---------------- DRAW ----------------
const RED = "#ff0000", GREEN = "#1eff1e", BLUE = "#0000ff";
const FONT = "Liberation Serif, Times New Roman, serif";
const svg = d3.select("#chart");
const x = d3.scaleLinear().domain([16.44, 16.4768]).range([53.5, 628]);
const yA = d3.scaleLinear().domain([-15, 5]).range([253, 48]);
const yB = d3.scaleLinear().domain([-15, 0]).range([516, 332]);

function rows(lat, val, spr) { return lat.map((d, i) => ({lat: d, v: val[i], s: spr[i]})); }
function band(y) {
  return d3.area().x(d => x(d.lat)).y0(d => y(d.v - d.s)).y1(d => y(d.v + d.s));
}
function center(y) { return d3.line().x(d => x(d.lat)).y(d => y(d.v)); }
function dots(g, data, y, color, size) {
  g.append("g").selectAll("rect").data(data).join("rect")
    .attr("x", d => x(d[0]) - size / 2).attr("y", d => y(d[1]) - size / 2)
    .attr("width", size).attr("height", size).attr("fill", color);
}

// ---- panel a ----
const gA = svg.append("g");
dots(gA, noise, yA, "#111", 1.6);
dots(gA, noiseMore, yA, "#111", 1.5);

const water = waterLat.map((d, i) => ({lat: d, v: waterElev[i]}));
gA.append("path").datum(water).attr("d", center(yA))
  .attr("fill", "none").attr("stroke", BLUE).attr("stroke-width", 4.6);

const terr = rows(terrainLat, terrainElev, terrainSpread);
gA.append("path").datum(terr).attr("d", band(yA)).attr("fill", RED).attr("stroke", RED).attr("stroke-width", 1.1).attr("stroke-linejoin", "round");
dots(gA, terrainScatter, yA, RED, 1.6);

gA.append("text").attr("x", 128).attr("y", 70).attr("fill", BLUE).attr("font-size", 19.6).text("Water surface photons");
gA.append("text").attr("x", 427).attr("y", 120).attr("fill", RED).attr("font-size", 19.6).text("Terrain photons");
gA.append("text").attr("x", 127).attr("y", 153).attr("fill", "#000").attr("font-size", 19.6).text("Noise photons");
gA.append("rect").attr("x", 172).attr("y", 113).attr("width", 30).attr("height", 27)
  .attr("fill", "none").attr("stroke", "#333").attr("stroke-width", 1);

function styleAxis(g, isLeft) {
  g.attr("font-family", FONT).attr("font-size", 16);
  g.selectAll("path.domain").attr("stroke", "#000").attr("stroke-width", 1.2);
  g.selectAll(".tick line").attr("stroke", "#000").attr("stroke-width", 1.2);
  g.selectAll("text").attr("fill", "#000");
  if (isLeft) g.selectAll("text").attr("dy", "0.36em");
}
const fmtLat = d3.format(".2f");
const axA = gA.append("g").attr("transform", `translate(0,${yA(5)})`)
  .call(d3.axisTop(x).tickValues(latTicks).tickFormat(fmtLat).tickSize(5).tickPadding(7.5).tickSizeOuter(0));
styleAxis(axA, false);
const ayA = gA.append("g").attr("transform", `translate(${x(16.44)},0)`)
  .call(d3.axisLeft(yA).tickValues(elevTicks).tickFormat(d => String(d)).tickSize(5).tickPadding(3.5).tickSizeOuter(0));
styleAxis(ayA, true);

svg.append("text").attr("x", 333).attr("y", 19.5).attr("text-anchor", "middle").attr("font-size", 16.5).text("Latitude (°N)");
svg.append("text").attr("transform", "translate(21,150) rotate(-90)").attr("text-anchor", "middle").attr("font-size", 16.5).text("Elevation (m)");
svg.append("text").attr("x", 298).attr("y", 277).attr("text-anchor", "middle").attr("font-size", 20).text("(a)");

// ---- panel b ----
const gB = svg.append("g");
const filt = rows(depthLat, filteredDepth, filteredSpread);
const corr = rows(depthLat, correctedDepth, correctedSpread);
gB.append("path").datum(filt).attr("d", band(yB)).attr("fill", RED).attr("stroke", RED).attr("stroke-width", 1).attr("stroke-linejoin", "round");
dots(gB, filteredScatter, yB, RED, 1.6);
gB.append("path").datum(corr).attr("d", band(yB)).attr("fill", GREEN).attr("stroke", GREEN).attr("stroke-width", 1).attr("stroke-linejoin", "round");
dots(gB, correctedScatter, yB, GREEN, 1.6);

const axB = gB.append("g").attr("transform", `translate(0,${yB(0)})`)
  .call(d3.axisTop(x).tickValues(latTicks).tickFormat(fmtLat).tickSize(5).tickPadding(7.5).tickSizeOuter(0));
styleAxis(axB, false);
const ayB = gB.append("g").attr("transform", `translate(${x(16.44)},0)`)
  .call(d3.axisLeft(yB).tickValues(depthTicks).tickFormat(d => String(d)).tickSize(5).tickPadding(3.5).tickSizeOuter(0));
styleAxis(ayB, true);

svg.append("text").attr("transform", "translate(21,422) rotate(-90)").attr("text-anchor", "middle").attr("font-size", 16.5).text("Depth (m)");
svg.append("text").attr("x", 296).attr("y", 555).attr("text-anchor", "middle").attr("font-size", 20).text("(b)");

// legend
const legColors = [RED, "#00ee00"];
const leg = svg.append("g").selectAll("g").data(legendLabels).join("g")
  .attr("transform", (d, i) => `translate(268,${470 + i * 21})`);
leg.append("circle").attr("r", 5).attr("fill", (d, i) => legColors[i]);
leg.append("text").attr("x", 22).attr("y", 5.5).attr("font-size", 16).text(d => d);
</script>
</body></html>
